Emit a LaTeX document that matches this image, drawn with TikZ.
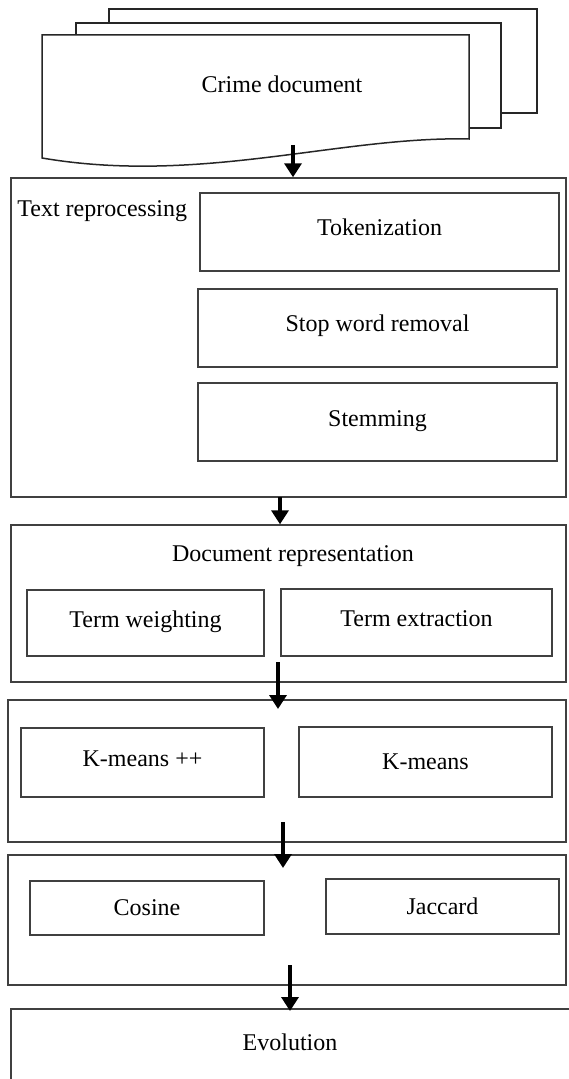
\documentclass[tikz,border=0pt]{standalone}
\usepackage{fontspec}
\setmainfont{Liberation Serif}
\usetikzlibrary{arrows.meta}

\begin{document}
\begin{tikzpicture}[
  x=0.5pt, y=-0.5pt,
  font=\fontsize{12}{14}\selectfont,
  sheet/.style={draw=black!85, line width=0.75pt, fill=white},
  blk/.style={draw=black!75, line width=0.7pt, fill=white, inner sep=0pt},
  inner/.style={blk, text height=8pt, text depth=4pt},
  flow/.style={line width=1.7pt, -{Triangle[width=8.5pt,length=7pt]}}]

    \useasboundingbox (0,0) rectangle (568,1079);

    % crime documents
    \draw[sheet] (109,9) rectangle (537,113);
    \draw[sheet] (76,23) rectangle (501,128);
    \draw[sheet] (42,35) -- (469,35) -- (469,139) .. controls (340,136) and (200,185) .. (42,158) -- cycle;
    \node at (282,84) (crime) {Crime document};

    % text reprocessing
    \node[blk, minimum width=277.5pt, minimum height=159.5pt] at (288.5,337.5) (prep) {};
    \node[anchor=west, inner sep=0pt] at (17,211) (preplbl) {Text reprocessing};
    \node[inner, minimum width=179.5pt, minimum height=39pt] at (379.5,232) (tok) {Tokenization};
    \node[inner, minimum width=179.5pt, minimum height=39pt] at (377.5,328) (stop) {Stop word removal};
    \node[inner, minimum width=179.5pt, minimum height=39pt] at (377.5,422) (stem) {Stemming};

    % document representation
    \node[blk, minimum width=277.5pt, minimum height=78.5pt] at (288.5,603.5) (rep) {};
    \node at (293,556) (replbl) {Document representation};
    \node[inner, minimum width=118.5pt, minimum height=33pt] at (145.5,623) (tw) {Term weighting};
    \node[inner, minimum width=135.5pt, minimum height=33.5pt] at (416.5,622.5) (te) {Term extraction};

    % clustering
    \node[blk, minimum width=279pt, minimum height=71pt] at (287,771) (clu) {};
    \node[inner, minimum width=121.5pt, minimum height=34.5pt] at (142.5,762.5) (kpp) {K-means ++};
    \node[blk, minimum width=126.5pt, minimum height=35pt] at (425.5,762) (km) {K-means};

    % similarity
    \node[blk, minimum width=279pt, minimum height=65pt] at (287,920) (sim) {};
    \node[blk, minimum width=117pt, minimum height=27pt] at (147,908) (cos) {Cosine};
    \node[blk, minimum width=116.5pt, minimum height=27.5pt] at (442.5,906.5) (jac) {Jaccard};

    % evolution
    \node[blk, minimum width=284.5pt, minimum height=45.5pt] at (295.5,1054.5) (evo) {};
    \node at (290,1042) (evolbl) {Evolution};

    % arrows
    \coordinate (a1) at (293,145);
    \coordinate (a2) at (280,497);
    \coordinate (a3s) at (278,662);
    \coordinate (a3e) at (278,709);
    \coordinate (a4s) at (283,822);
    \coordinate (a4e) at (283,868);
    \coordinate (a5s) at (290,965);
    \coordinate (a5e) at (290,1011);

    \draw[flow] (a1) -- (a1 |- prep.north);
    \draw[flow] (a2) -- (a2 |- rep.north);
    \draw[flow] (a3s) -- (a3e);
    \draw[flow] (a4s) -- (a4e);
    \draw[flow] (a5s) -- (a5e);

\end{tikzpicture}
\end{document}
